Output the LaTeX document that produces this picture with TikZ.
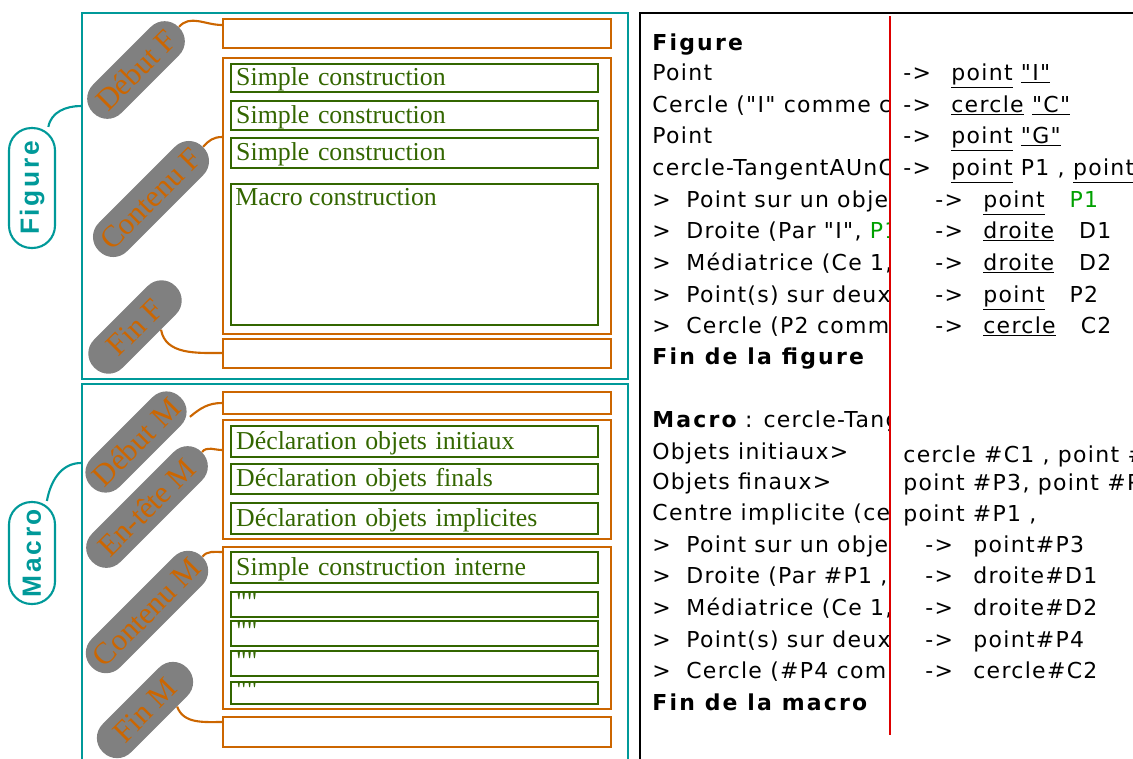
\documentclass[tikz,border=0pt]{standalone}
\usepackage{fontspec}
\setmainfont{Liberation Serif}
\newfontfamily\tagfont[LetterSpace=10]{Liberation Sans}
\newfontfamily\macfont[LetterSpace=6]{DejaVu Sans}
\newfontfamily\macbold[LetterSpace=10]{DejaVu Sans}
\usetikzlibrary{calc, positioning}
\definecolor{tealc}{HTML}{009999}
\definecolor{orangec}{HTML}{CC6600}
\definecolor{greenc}{HTML}{336600}
\definecolor{pillgray}{HTML}{808080}
\definecolor{macgreen}{HTML}{00A000}
\definecolor{redline}{HTML}{DD0000}
\newcommand{\itm}{\makebox[0.68cm][l]{>}}
\newcommand{\arr}{\makebox[0.96cm][l]{->}}
\newcommand{\ditto}{\textquotedbl\textquotedbl}

\begin{document}
\begin{tikzpicture}[x=0.02cm, y=0.02cm,
    frame/.style={draw=tealc, line width=1.2pt, anchor=north west, inner sep=0},
    tag/.style={draw=tealc, line width=1.2pt, fill=white, rounded corners=0.45cm, rotate=90, minimum height=0.92cm, minimum width=#1, text=tealc, font=\tagfont\bfseries\fontsize{15}{17}\selectfont},
    pill/.style={fill=pillgray, rounded corners=0.39cm, rotate=45, minimum height=0.8cm, minimum width=#1, inner xsep=1pt, inner ysep=1pt, text=orangec, font=\fontsize{17.5}{20}\selectfont},
    obox/.style={draw=orangec, line width=1.4pt, anchor=north west, minimum width=7.76cm, minimum height=#1, inner sep=0},
    gbox/.style={draw=greenc, line width=1.4pt, anchor=north west, minimum height=#1, text width=7.14cm, text height=0.4cm, text depth=0.1cm, inner xsep=0.1cm, inner ysep=0, align=left, text=greenc, font=\fontsize{14.7}{17}\selectfont},
    dbox/.style={gbox=#1, text height=0.3cm, text depth=0.08cm},
    link/.style={draw=orangec, line width=1.2pt},
    tealink/.style={draw=tealc, line width=1.2pt},
    mline/.style={anchor=base west, inner sep=0, font=\macfont\fontsize{12.5}{15}\selectfont},
    mhead/.style={anchor=base west, inner sep=0, font=\macbold\bfseries\fontsize{12.5}{15}\selectfont}
]
\useasboundingbox (0,0) rectangle (1133,-758);

\node[frame, minimum width=10.92cm, minimum height=7.32cm] (figframe) at (81,-12) {};
\node[frame, minimum width=10.92cm, minimum height=7.6cm] (macframe) at (81,-383) {};
\node[tag=2.4cm] (figtag) at (32,-188) {Figure};
\node[tag=2.04cm] (mactag) at (32,-553) {Macro};

\node[obox=0.58cm] (debf) at (222,-18) {};
\node[obox=5.52cm] (contf) at (222,-57) {};
\node[obox=0.58cm] (finf) at (222,-338) {};
\node[obox=0.44cm] (debm) at (222,-391) {};
\node[obox=2.38cm] (entm) at (222,-419) {};
\node[obox=3.24cm] (contm) at (222,-546) {};
\node[obox=0.6cm] (finm) at (222,-716) {};

\node[gbox=0.56cm] (sc1) at (230,-63) {Simple construction};
\node[gbox=0.58cm] (sc2) at (230,-100) {Simple construction};
\node[gbox=0.6cm] (sc3) at (230,-137) {Simple construction};
\node[gbox=2.82cm, text height=0pt, text depth=0pt] (mc) at (230,-183) {};
\node[anchor=north west, inner sep=0.1cm, text=greenc, font=\fontsize{14.7}{17}\selectfont] (mctxt) at (mc.north west) {Macro construction};
\node[gbox=0.62cm] (dinit) at (230,-425) {Déclaration objets initiaux};
\node[gbox=0.6cm] (dfin) at (230,-463) {Déclaration objets finals};
\node[gbox=0.62cm] (dimpl) at (230,-502) {Déclaration objets implicites};
\node[gbox=0.62cm] (sci) at (230,-551) {Simple construction interne};
\node[dbox=0.5cm] (q1) at (230,-591) {\ditto};
\node[dbox=0.5cm] (q2) at (230,-620) {\ditto};
\node[dbox=0.5cm] (q3) at (230,-650) {\ditto};
\node[dbox=0.44cm] (q4) at (230,-681) {\ditto};

\node[pill=2.42cm] (debfp) at (136,-70) {Début F};
\node[pill=2.94cm] (contfp) at (151,-199) {Contenu F};
\node[pill=2.3cm] (finfp) at (135,-327) {Fin F};
\node[pill=2.52cm] (debmp) at (136,-442) {Début M};
\node[pill=3.1cm] (entmp) at (147,-507) {En-tête M};
\node[pill=3.12cm] (contmp) at (147,-612) {Contenu M};
\node[pill=2.38cm] (finmp) at (145,-710) {Fin M};

\draw[tealink] (figtag.-15) to[out=80,in=180] ($(figframe.north west)+(0,-94)$);
\draw[tealink] (mactag.-16) to[out=80,in=180] ($(macframe.north west)+(0,-80)$);
\draw[link] (debfp.east) to[out=50,in=180] ($(debf.north west)+(0,-7)$);
\draw[link] (contfp.east) to[out=50,in=180] ($(contf.north west)+(0,-80)$);
\draw[link] (finfp.-51) to[out=-80,in=180] ($(finf.north west)+(0,-15)$);
\draw[link] (debmp.-20) to[out=40,in=180] ($(debm.north west)+(0,-12)$);
\draw[link] (entmp.east) to[out=50,in=180] ($(entm.north west)+(0,-31)$);
\draw[link] (contmp.east) to[out=50,in=180] ($(contm.north west)+(0,-6)$);
\draw[link] (finmp.-39) to[out=-70,in=180] ($(finm.north west)+(0,-6)$);

\draw[line width=1.7pt] (640,-760) -- (640,-13) -- (1135,-13);
\draw[redline, line width=1.3pt] (890,-16) -- (890,-735);

\begin{scope}
\clip (642,-15) rectangle (888,-758);
\node[mhead] (fg0) at (652,-50) {Figure};
\node[mline] (fg1) at (652,-80) {Point};
\node[mline] (fg2) at (652,-112) {Cercle ("I" comme ce};
\node[mline] (fg3) at (652,-143) {Point};
\node[mline] (fg4) at (652,-175) {cercle-TangentAUnC};
\node[mline] (fg5) at (652,-207) {\itm Point sur un objet};
\node[mline] (fg6) at (652,-238) {\itm Droite (Par "I", {\color{macgreen}P1}};
\node[mline] (fg7) at (652,-270) {\itm Médiatrice (Ce 1,};
\node[mline] (fg8) at (652,-302) {\itm Point(s) sur deux};
\node[mline] (fg9) at (652,-333) {\itm Cercle (P2 comme};
\node[mhead] (fg10) at (652,-364) {Fin de la figure};
\node[mline] (mc0) at (652,-427) {{\macbold\bfseries Macro} : cercle-Tangent};
\node[mline] (mc1) at (652,-459) {Objets initiaux>};
\node[mline] (mc2) at (652,-489) {Objets finaux>};
\node[mline] (mc3) at (652,-520) {Centre implicite (ce};
\node[mline] (mc4) at (652,-552) {\itm Point sur un objet};
\node[mline] (mc5) at (652,-583) {\itm Droite (Par \#P1 , };
\node[mline] (mc6) at (652,-615) {\itm Médiatrice (Ce 1,};
\node[mline] (mc7) at (652,-647) {\itm Point(s) sur deux};
\node[mline] (mc8) at (652,-678) {\itm Cercle (\#P4 comme};
\node[mhead] (mc9) at (652,-710) {Fin de la macro};
\end{scope}

\begin{scope}
\clip (892,-15) rectangle (1133,-758);
\node[mline] (fr1) at (903,-80) {\arr\underline{point} \underline{"I"}};
\node[mline] (fr2) at (903,-112) {\arr\underline{cercle} \underline{"C"}};
\node[mline] (fr3) at (903,-143) {\arr\underline{point} \underline{"G"}};
\node[mline] (fr4) at (903,-175) {\arr\underline{point} P1 , \underline{point}};
\node[mline] (fr5) at (935,-207) {\arr\underline{point}\hspace{0.5cm}{\color{macgreen}P1}};
\node[mline] (fr6) at (935,-238) {\arr\underline{droite}\hspace{0.5cm}D1};
\node[mline] (fr7) at (935,-270) {\arr\underline{droite}\hspace{0.5cm}D2};
\node[mline] (fr8) at (935,-302) {\arr\underline{point}\hspace{0.5cm}P2};
\node[mline] (fr9) at (935,-333) {\arr\underline{cercle}\hspace{0.5cm}C2};
\node[mline] (mr1) at (903,-462) {cercle \#C1 , point \#};
\node[mline] (mr2) at (903,-490) {point \#P3, point \#P};
\node[mline] (mr3) at (903,-521) {point \#P1 ,};
\node[mline] (mr4) at (925,-552) {\arr point\#P3};
\node[mline] (mr5) at (925,-583) {\arr droite\#D1};
\node[mline] (mr6) at (925,-615) {\arr droite\#D2};
\node[mline] (mr7) at (925,-647) {\arr point\#P4};
\node[mline] (mr8) at (925,-678) {\arr cercle\#C2};
\end{scope}
\end{tikzpicture}
\end{document}
